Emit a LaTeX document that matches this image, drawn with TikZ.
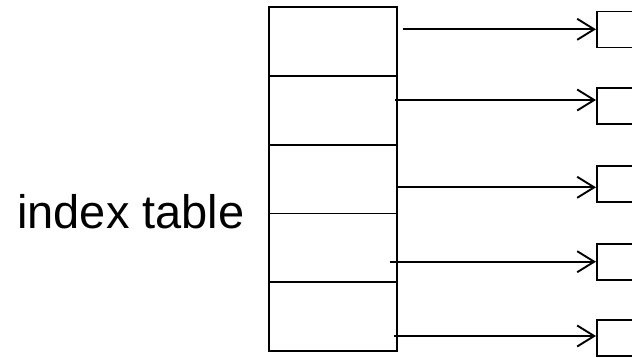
\documentclass[tikz,border=0pt]{standalone}
\usepackage{fontspec}
\setmainfont{Liberation Sans}
\usetikzlibrary{arrows.meta,positioning}

\begin{document}
\begin{tikzpicture}[x=1pt, y=-1pt,
    slot/.style={rectangle, draw, line width=1.8pt, minimum width=127.7pt, minimum height=68.7pt, inner sep=0pt},
    entry/.style={rectangle, draw, line width=1.8pt, minimum width=44pt, minimum height=36pt, inner sep=0pt, anchor=west},
    ptr/.style={-{Straight Barb[length=17pt, width=21pt, line width=1.9pt]}, line width=1.8pt},
]
\useasboundingbox (0,0) rectangle (632,357);

% === label ===
\node[font=\fontsize{47}{51}\selectfont, anchor=base west, inner sep=0pt] (lbl) at (17,228) {index table};

% === index table ===
\node[slot] (r1) at (332.8,41.65) {};
\node[slot] (r2) at (332.8,110.35) {};
\node[slot] (r3) at (332.8,179.05) {};
\node[slot] (r4) at (332.8,247.75) {};
\node[slot] (r5) at (332.8,316.45) {};

% === pointed entries ===
\node[entry] (e1) at (596,29.5) {};
\node[entry] (e2) at (596,106) {};
\node[entry] (e3) at (596,184) {};
\node[entry] (e4) at (596,261.7) {};
\node[entry] (e5) at (596,338.3) {};

% pointer starts
\coordinate (s1) at (402.7,29.3);
\coordinate (s2) at (395,100);
\coordinate (s3) at (396,187.3);
\coordinate (s4) at (390,261.7);
\coordinate (s5) at (394.3,336);

\draw[ptr] (s1) -- (s1 -| e1.west);
\draw[ptr] (s2) -- (s2 -| e2.west);
\draw[ptr] (s3) -- (s3 -| e3.west);
\draw[ptr] (s4) -- (s4 -| e4.west);
\draw[ptr] (s5) -- (s5 -| e5.west);

\end{tikzpicture}
\end{document}
